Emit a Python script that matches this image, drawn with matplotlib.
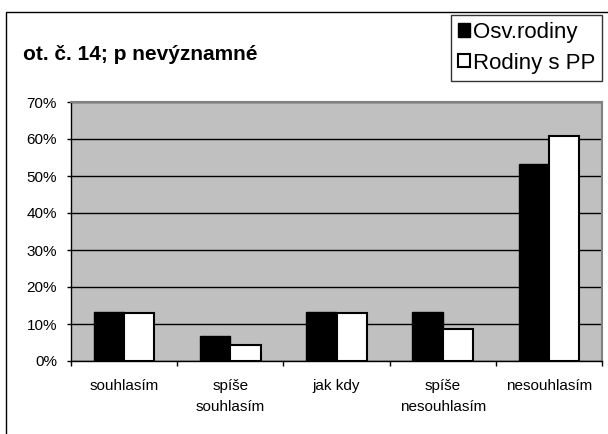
import numpy as np
import matplotlib
matplotlib.use("Agg")
import matplotlib.pyplot as plt
from matplotlib.patches import Rectangle
from matplotlib.ticker import PercentFormatter

plt.rcParams['font.family'] = ['Liberation Sans', 'DejaVu Sans']

categories = ['souhlasím', 'spíše\nsouhlasím', 'jak kdy', 'spíše\nnesouhlasím', 'nesouhlasím']
osv_rodiny = [13.3, 6.7, 13.3, 13.3, 53.3]
rodiny_pp = [13.0, 4.3, 13.0, 8.7, 60.9]
series_names = ['Osv.rodiny', 'Rodiny s PP']
title = 'ot. č. 14; p nevýznamné'

W, H = 608, 434
fig = plt.figure(figsize=(W / 100, H / 100), dpi=100)

# outer frame of the chart
fig.patches.append(Rectangle((6 / W, -0.1), 1.1, 1 - 12 / H + 0.1, transform=fig.transFigure,
                             fill=False, edgecolor='black', linewidth=1))

ax = fig.add_axes([71 / W, (H - 361) / H, (602 - 71) / W, (361 - 102) / H])
ax.set_facecolor('#c0c0c0')

x = np.arange(len(categories))
bw = 0.285
ax.bar(x - bw / 2, osv_rodiny, bw, color='black', edgecolor='black', linewidth=1,
       label=series_names[0], zorder=3)
ax.bar(x + bw / 2, rodiny_pp, bw, color='white', edgecolor='black', linewidth=1.5,
       label=series_names[1], zorder=3)

ax.set_xlim(-0.5, len(categories) - 0.5)
ax.set_ylim(0, 70)
ax.set_yticks(np.arange(0, 71, 10))
ax.yaxis.set_major_formatter(PercentFormatter(decimals=0))
ax.yaxis.grid(True, color='black', linewidth=1)
ax.set_axisbelow(True)

ax.set_xticks(x)
ax.set_xticklabels(categories, fontsize=11, linespacing=1.6)
ax.set_xticks(np.arange(-0.5, len(categories)), minor=True)
ax.tick_params(axis='x', which='major', length=0, pad=13)
ax.tick_params(axis='x', which='minor', length=3.6, width=1, direction='out')
ax.tick_params(axis='y', length=3, width=1, direction='out', labelsize=11, pad=7)

for side in ['top', 'right']:
    ax.spines[side].set_color('#808080')
    ax.spines[side].set_linewidth(1.5)
for side in ['left', 'bottom']:
    ax.spines[side].set_color('black')
    ax.spines[side].set_linewidth(1)

fig.text(23 / W, 1 - 54 / H, title, fontsize=15, fontweight='bold', va='center', ha='left')

leg = fig.legend(loc='upper left', bbox_to_anchor=(451 / W, 1 - 15 / H), borderaxespad=0,
                 fontsize=16, frameon=True, fancybox=False, handlelength=0.55, handleheight=0.55,
                 handletextpad=0.12, labelspacing=0.44, borderpad=0.31)
leg.get_frame().set_edgecolor('black')
leg.get_frame().set_linewidth(1)

fig.savefig('out.png', dpi=100)
